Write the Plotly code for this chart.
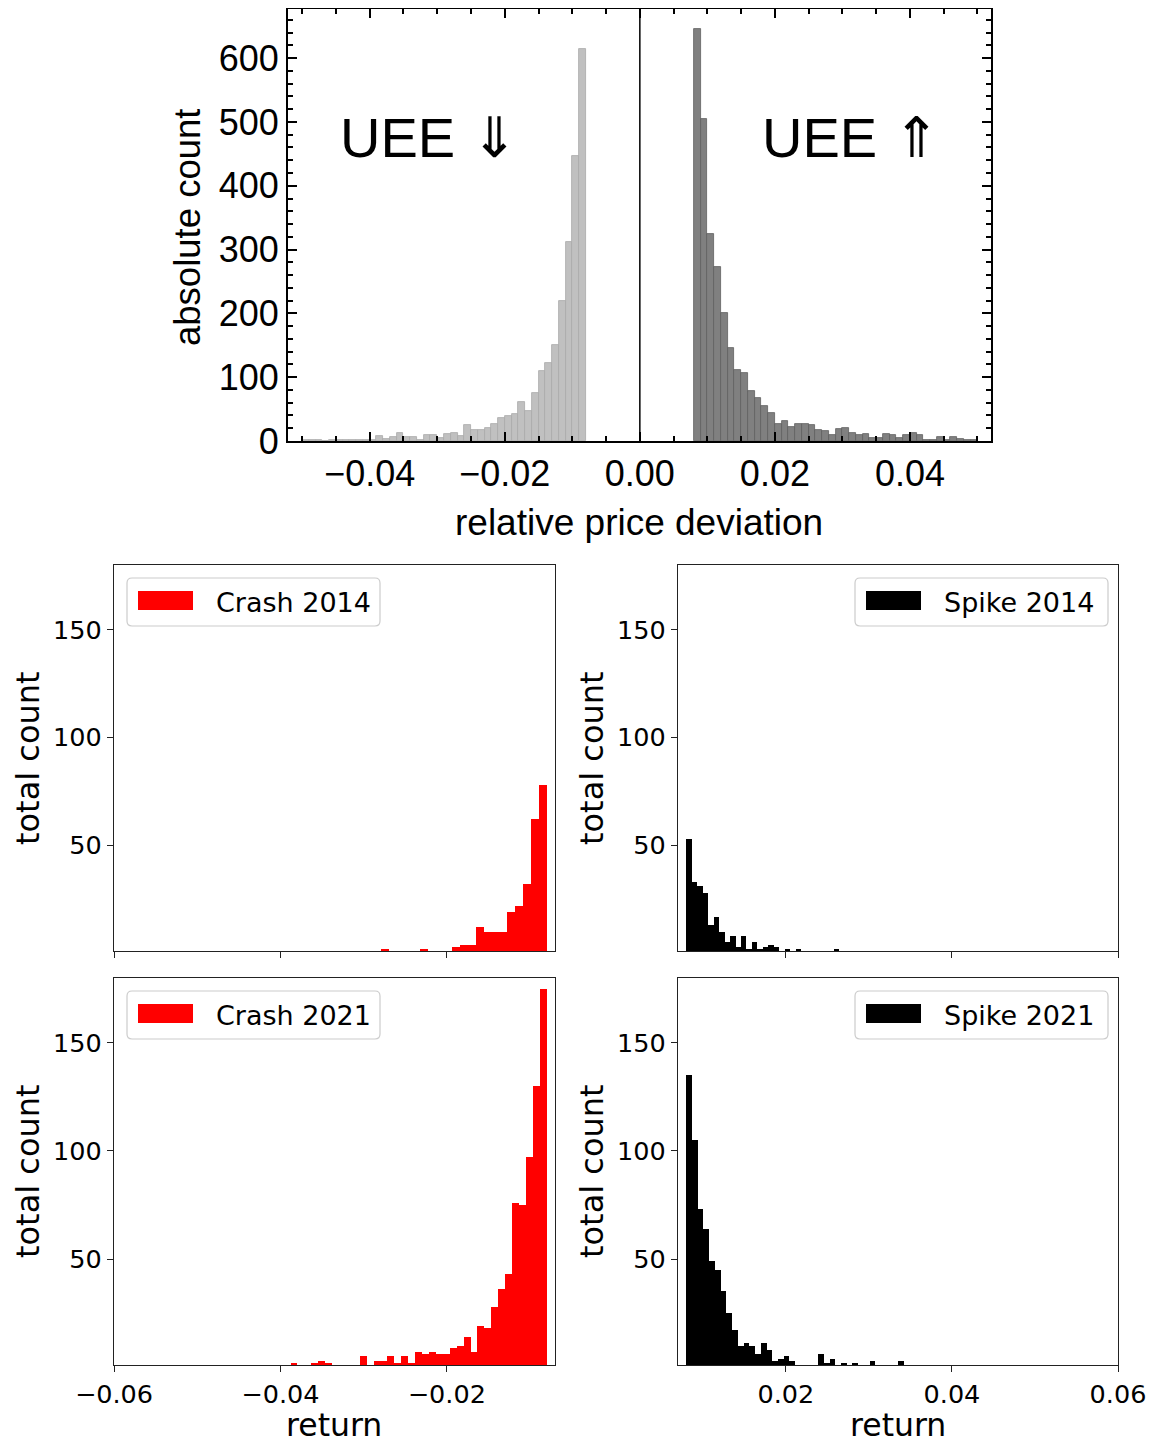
import numpy as np
import plotly.graph_objects as go

# page is shown with the browser's default 8px body margin
OFF = 8
W, H = 1157 - OFF, 1443 - OFF

# ---------------- data ----------------
# top panel: relative price deviation histograms (bin width 0.001)
top_bin_width = 0.001
top_down_start = -0.050
top_down_counts = [1, 2, 1, 0, 1, 1, 1, 1, 2, 1, 1, 8, 3, 7, 13, 7, 7, 1, 9, 9, 5,
                   11, 13, 8, 25, 18, 18, 20, 26, 36, 39, 43, 61, 47, 75, 110, 122,
                   150, 219, 312, 447, 614]
top_up_start = 0.008
top_up_counts = [645, 504, 324, 272, 201, 146, 111, 107, 79, 68, 55, 44, 27, 31, 22,
                 26, 26, 25, 18, 15, 10, 19, 21, 13, 9, 11, 4, 4, 11, 10, 4, 9, 12,
                 9, 2, 2, 7, 2, 6, 3, 1, 1]

# bottom panels: return histograms
crash14_width = 0.000949
crash14_counts = [2, 0, 0, 0, 0, 2, 0, 0, 0, 3, 4, 4, 12, 10, 10, 10, 19, 22, 32, 62, 78]
crash14_end = -0.008

crash21_width = 0.000832
crash21_counts = [2, 0, 0, 2, 3, 2, 0, 0, 0, 0, 5, 0, 3, 3, 5, 2, 5, 2, 7, 6, 7, 6, 6,
                  9, 10, 14, 7, 19, 18, 28, 36, 43, 76, 75, 97, 130, 175]
crash21_end = -0.008

spike14_width = 0.000659
spike14_start = 0.008
spike14_counts = [53, 33, 31, 28, 13, 17, 10, 5, 8, 3, 8, 2, 5, 2, 3, 4, 3, 0, 2, 0, 2,
                  0, 0, 0, 0, 0, 0, 2]

spike21_width = 0.00069
spike21_start = 0.008
spike21_counts = [135, 105, 73, 64, 49, 45, 35, 25, 17, 10, 11, 10, 6, 11, 8, 3, 4, 5,
                  3, 0, 0, 0, 0, 6, 2, 4, 0, 2, 0, 2, 0, 0, 3, 0, 0, 0, 0, 3]

top_xticks = [-0.04, -0.02, 0.0, 0.02, 0.04]
top_xticklabels = ["\u22120.04", "\u22120.02", "0.00", "0.02", "0.04"]
top_yticks = [0, 100, 200, 300, 400, 500, 600]
left_xticks = [-0.06, -0.04, -0.02]
right_xticks = [0.02, 0.04, 0.06]
bottom_yticks = [50, 100, 150]


def centers_from_start(start, width, counts):
    return start + width * (np.arange(len(counts)) + 0.5)


def centers_from_end(end, width, counts):
    n = len(counts)
    return end - width * n + width * (np.arange(n) + 0.5)


def px(x):
    return min(max((x - OFF) / W, 0.0), 1.0)


def py(y):
    return min(max(1 - (y - OFF) / H, 0.0), 1.0)


# ---------------- figure ----------------
fig = go.Figure()

fig.add_trace(go.Bar(
    x=centers_from_start(top_down_start, top_bin_width, top_down_counts),
    y=top_down_counts, width=top_bin_width,
    marker=dict(color="#c0c0c0", line=dict(color="#a8a8a8", width=0.8)),
    xaxis="x", yaxis="y", showlegend=False, name="UEE down"))
fig.add_trace(go.Bar(
    x=centers_from_start(top_up_start, top_bin_width, top_up_counts),
    y=top_up_counts, width=top_bin_width,
    marker=dict(color="#808080", line=dict(color="#606060", width=0.8)),
    xaxis="x", yaxis="y", showlegend=False, name="UEE up"))

fig.add_trace(go.Bar(
    x=centers_from_end(crash14_end, crash14_width, crash14_counts),
    y=crash14_counts, width=crash14_width,
    marker=dict(color="#ff0000", line=dict(width=0)),
    xaxis="x2", yaxis="y2", showlegend=False, name="Crash 2014"))
fig.add_trace(go.Bar(
    x=centers_from_start(spike14_start, spike14_width, spike14_counts),
    y=spike14_counts, width=spike14_width,
    marker=dict(color="#000000", line=dict(width=0)),
    xaxis="x3", yaxis="y3", showlegend=False, name="Spike 2014"))
fig.add_trace(go.Bar(
    x=centers_from_end(crash21_end, crash21_width, crash21_counts),
    y=crash21_counts, width=crash21_width,
    marker=dict(color="#ff0000", line=dict(width=0)),
    xaxis="x4", yaxis="y4", showlegend=False, name="Crash 2021"))
fig.add_trace(go.Bar(
    x=centers_from_start(spike21_start, spike21_width, spike21_counts),
    y=spike21_counts, width=spike21_width,
    marker=dict(color="#000000", line=dict(width=0)),
    xaxis="x5", yaxis="y5", showlegend=False, name="Spike 2021"))

TOPFONT = "Liberation Sans, Arial, sans-serif"
BOTFONT = "DejaVu Sans, sans-serif"

top_common = dict(showline=True, linecolor="black", linewidth=2, mirror="allticks",
                  ticks="inside", ticklen=9, tickwidth=2, tickcolor="black",
                  showgrid=False, zeroline=False, automargin=False,
                  tickfont=dict(family=TOPFONT, size=36, color="black"))

layout_axes = dict(
    xaxis=dict(domain=[px(288), px(991)], anchor="y", range=[-0.0521, 0.052],
               tickvals=top_xticks, ticktext=top_xticklabels,
               minor=dict(dtick=0.005, tick0=0, ticks="inside", ticklen=5, tickwidth=1.5,
                          tickcolor="black"),
               **top_common),
    yaxis=dict(domain=[py(441), py(9)], anchor="x", range=[0, 677],
               tickvals=top_yticks,
               minor=dict(dtick=20, tick0=0, ticks="inside", ticklen=5, tickwidth=1.5,
                          tickcolor="black"),
               **top_common),
)

bot_common = dict(showline=True, linecolor="#222222", linewidth=1.3, mirror=True,
                  ticks="outside", ticklen=6, tickwidth=1.3, tickcolor="#222222",
                  showgrid=False, zeroline=False, automargin=False,
                  tickfont=dict(family=BOTFONT, size=25.5, color="black"))

panels = [
    ("2", [114, 555], [565, 951], [-0.06, -0.007], left_xticks, False),
    ("3", [678, 1118], [565, 951], [0.007, 0.06], right_xticks, False),
    ("4", [114, 555], [978, 1365], [-0.06, -0.007], left_xticks, True),
    ("5", [678, 1118], [978, 1365], [0.007, 0.06], right_xticks, True),
]
for k, xs, ys, xr, xt, showlab in panels:
    layout_axes["xaxis" + k] = dict(domain=[px(xs[0]), px(xs[1])], anchor="y" + k,
                                    range=xr, tickvals=xt, showticklabels=showlab,
                                    **bot_common)
    layout_axes["yaxis" + k] = dict(domain=[py(ys[1]), py(ys[0])], anchor="x" + k,
                                    range=[1, 180], tickvals=bottom_yticks,
                                    **bot_common)

fig.update_layout(width=W, height=H,
                  margin=dict(l=0, r=0, t=0, b=0, pad=0, autoexpand=False),
                  paper_bgcolor="white", plot_bgcolor="white",
                  barmode="overlay", bargap=0, showlegend=False, **layout_axes)

# vertical line at zero in top panel
fig.add_shape(type="line", xref="x", yref="paper", x0=0, x1=0,
              y0=py(441), y1=py(9), line=dict(color="black", width=1.5))

ann = []


def add_text(text, x, y, size, family, angle=0, xanchor="center"):
    ann.append(dict(text=text, x=px(x), y=py(y), xref="paper", yref="paper",
                    xanchor=xanchor, yanchor="middle", showarrow=False,
                    textangle=angle, font=dict(family=family, size=size, color="black")))


# top panel labels
add_text("UEE \u21d3", 429, 137, 56, TOPFONT)
add_text("UEE \u21d1", 851, 137, 56, TOPFONT)
add_text("absolute count", 188, 228, 36.5, TOPFONT, angle=-90)
add_text("relative price deviation", 639, 522, 37, TOPFONT)

# bottom axis titles
for xc in (28, 592):
    for yc in (758, 1171):
        add_text("total count", xc, yc, 32, BOTFONT, angle=-90)
for xc in (334, 898):
    add_text("return", xc, 1425, 31.5, BOTFONT)


# manual legends
def rounded_rect(x0, y0, x1, y1, r=5):
    X = lambda v: f"{px(v):.6f}"
    Y = lambda v: f"{py(v):.6f}"
    pts = [
        f"M{X(x0 + r)},{Y(y0)}",
        f"L{X(x1 - r)},{Y(y0)}",
        f"Q{X(x1)},{Y(y0)} {X(x1)},{Y(y0 + r)}",
        f"L{X(x1)},{Y(y1 - r)}",
        f"Q{X(x1)},{Y(y1)} {X(x1 - r)},{Y(y1)}",
        f"L{X(x0 + r)},{Y(y1)}",
        f"Q{X(x0)},{Y(y1)} {X(x0)},{Y(y1 - r)}",
        f"L{X(x0)},{Y(y0 + r)}",
        f"Q{X(x0)},{Y(y0)} {X(x0 + r)},{Y(y0)}",
        "Z",
    ]
    return " ".join(pts)


legends = [
    ("Crash 2014", "#ff0000", 127, 578),
    ("Spike 2014", "#000000", 855, 578),
    ("Crash 2021", "#ff0000", 127, 991),
    ("Spike 2021", "#000000", 855, 991),
]
for label, col, lx, ly in legends:
    fig.add_shape(type="path", xref="paper", yref="paper",
                  path=rounded_rect(lx, ly, lx + 253, ly + 48),
                  fillcolor="rgba(255,255,255,0.8)", line=dict(color="#cccccc", width=1.2))
    fig.add_shape(type="rect", xref="paper", yref="paper",
                  x0=px(lx + 11), x1=px(lx + 66), y0=py(ly + 32), y1=py(ly + 13),
                  fillcolor=col, line=dict(width=0))
    add_text(label, lx + 87, ly + 24, 27, BOTFONT, xanchor="left")

fig.update_layout(annotations=ann)

fig.write_html("out.html")
